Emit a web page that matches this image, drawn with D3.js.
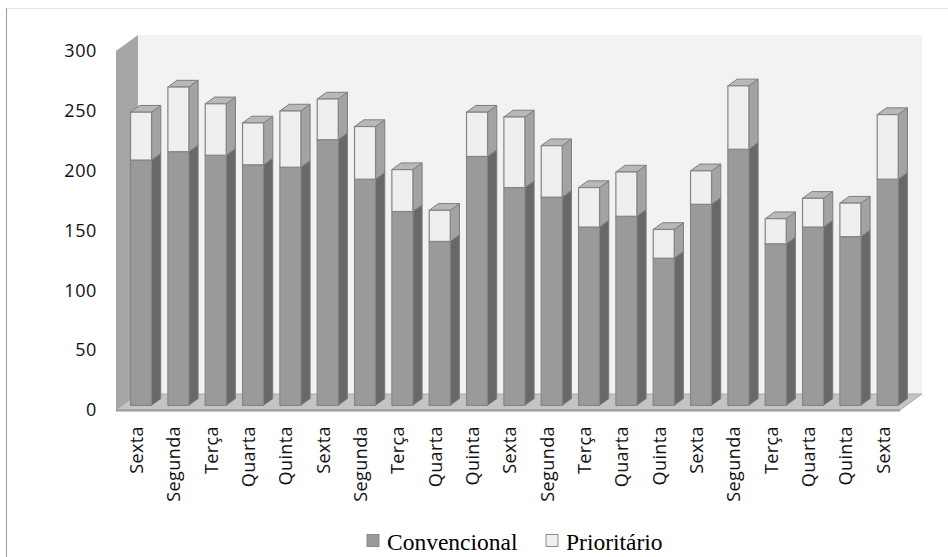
<!DOCTYPE html>
<html>
<head>
<meta charset="utf-8">
<script src="https://cdn.jsdelivr.net/npm/d3@7"></script>
<style>
  html, body { margin: 0; padding: 0; background: #ffffff; }
  svg { display: block; }
</style>
</head>
<body>
<svg id="chart" width="948" height="557"></svg>
<script>
// Weekday labels along the x axis
const categories = ["Sexta","Segunda","Terça","Quarta","Quinta","Sexta","Segunda","Terça","Quarta","Quinta","Sexta",
                    "Segunda","Terça","Quarta","Quinta","Sexta","Segunda","Terça","Quarta","Quinta","Sexta"];
// Stacked series
const convencional = [205, 212, 209, 201, 199, 222, 189, 162, 137, 208, 182, 174, 149, 158, 123, 168, 214, 135, 149, 141, 189];
const prioritario  = [ 40,  54,  43,  35,  47,  34,  44,  35,  26,  37,  59,  43,  33,  37,  24,  28,  53,  21,  24,  28,  54];
const seriesNames = ["Convencional", "Prioritário"];
const yTicks = [0, 50, 100, 150, 200, 250, 300];

const svg = d3.select("#chart");

// Front plane of the plot box and its depth offset
const left = 116, right = 900;
const depth = { dx: 22, dy: -16 };
const barDepthFrac = 0.42, barFrontFrac = 0.29;

const x = d3.scaleBand()
  .domain(d3.range(categories.length))
  .range([left, right])
  .paddingInner(0.4375)
  .paddingOuter(0.21875);

const y = d3.scaleLinear().domain([0, 300]).range([410, 51]);

// Outer frame
svg.append("line").attr("x1", 6).attr("x2", 948).attr("y1", 8.5).attr("y2", 8.5)
  .attr("stroke", "#e6e6e6").attr("stroke-width", 1);
svg.append("line").attr("x1", 6.5).attr("x2", 6.5).attr("y1", 8).attr("y2", 557)
  .attr("stroke", "#9a9a9a").attr("stroke-width", 1);

const pt = (px, py) => px + "," + py;
const poly = (pts) => pts.map(p => pt(p[0], p[1])).join(" ");

// Back wall
svg.append("polygon")
  .attr("points", poly([
    [left + depth.dx, y(300) + depth.dy], [right + depth.dx, y(300) + depth.dy],
    [right + depth.dx, y(0) + depth.dy], [left + depth.dx, y(0) + depth.dy]]))
  .attr("fill", "#f2f2f2");

// Side wall
svg.append("polygon")
  .attr("points", poly([
    [left, y(300)], [left + depth.dx, y(300) + depth.dy],
    [left + depth.dx, y(0) + depth.dy], [left, y(0)]]))
  .attr("fill", "#a6a6a6");

// Floor
svg.append("polygon")
  .attr("points", poly([
    [left, y(0)], [left + depth.dx, y(0) + depth.dy],
    [right + depth.dx, y(0) + depth.dy], [right, y(0)]]))
  .attr("fill", "#c4c4c4").attr("stroke", "#a8a8a8").attr("stroke-width", 1);
svg.append("line").attr("x1", left).attr("x2", right).attr("y1", y(0) + 0.5).attr("y2", y(0) + 0.5)
  .attr("stroke", "#9c9c9c").attr("stroke-width", 2);

// Bars
const fx = depth.dx * barFrontFrac, fy = depth.dy * barFrontFrac;
const bx = depth.dx * barDepthFrac, by = depth.dy * barDepthFrac;
const bw = x.bandwidth();

const styles = [
  { front: "#9a9a9a", side: "#686868", top: "#b0b0b0" },
  { front: "#efefef", side: "#a3a3a3", top: "#b8b8b8" }
];

const segs = [];
categories.forEach((c, i) => {
  const c1 = convencional[i];
  const p1 = c1 + prioritario[i];
  segs.push({ i, s: 0, v0: 0, v1: c1 });
  segs.push({ i, s: 1, v0: c1, v1: p1 });
});

const bars = svg.append("g").attr("class", "bars");
segs.forEach(d => {
  const x0 = x(d.i) + fx, x1 = x0 + bw;
  const yb = y(d.v0) + fy, yt = y(d.v1) + fy;
  const st = styles[d.s];
  const g = bars.append("g");
  g.append("polygon")
    .attr("points", poly([[x1, yt], [x1 + bx, yt + by], [x1 + bx, yb + by], [x1, yb]]))
    .attr("fill", st.side).attr("stroke", "#7e7e7e").attr("stroke-width", 1).attr("stroke-linejoin", "round");
  g.append("polygon")
    .attr("points", poly([[x0, yt], [x0 + bx, yt + by], [x1 + bx, yt + by], [x1, yt]]))
    .attr("fill", st.top).attr("stroke", "#7e7e7e").attr("stroke-width", 1).attr("stroke-linejoin", "round");
  g.append("rect")
    .attr("x", x0).attr("y", yt).attr("width", bw).attr("height", yb - yt)
    .attr("fill", st.front).attr("stroke", "#858585").attr("stroke-width", 1.2);
});

// Value axis
const yAxis = svg.append("g")
  .attr("transform", `translate(${left},0)`)
  .call(d3.axisLeft(y).tickValues(yTicks).tickSize(0).tickPadding(19).tickFormat(d3.format("d")));
yAxis.select(".domain").remove();
yAxis.selectAll("text")
  .attr("font-family", "'Open Sans', sans-serif").attr("font-size", 18)
  .attr("letter-spacing", "0.6px").attr("fill", "#111");

// Category labels
svg.append("g").selectAll("text")
  .data(categories)
  .join("text")
  .attr("transform", (d, i) => `translate(${x(i) + bw / 2 + 2},426) rotate(-90)`)
  .attr("dy", "0.35em")
  .attr("text-anchor", "end")
  .attr("font-family", "'Open Sans', sans-serif")
  .attr("font-size", 18)
  .attr("letter-spacing", "0.4px")
  .attr("fill", "#111")
  .text(d => d);

// Legend
const legend = svg.append("g").attr("class", "legend");
const legendItems = [
  { name: seriesNames[0], fill: styles[0].front, x: 367 },
  { name: seriesNames[1], fill: styles[1].front, x: 546 }
];
legendItems.forEach(it => {
  legend.append("rect").attr("x", it.x).attr("y", 534.5).attr("width", 12).attr("height", 12)
    .attr("fill", it.fill).attr("stroke", "#8a8a8a").attr("stroke-width", 1);
  legend.append("text").attr("x", it.x + 20).attr("y", 550)
    .attr("font-family", "'Liberation Serif', 'Times New Roman', serif")
    .attr("font-size", 23.5).attr("fill", "#000")
    .text(it.name);
});
</script>
</body>
</html>
